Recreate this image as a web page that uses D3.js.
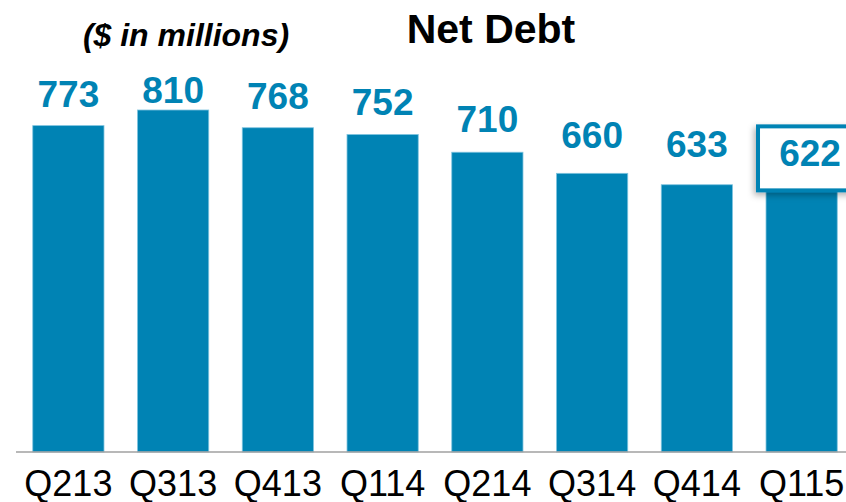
<!DOCTYPE html>
<html>
<head>
<meta charset="utf-8">
<script src="https://cdn.jsdelivr.net/npm/d3@7"></script>
<style>
  body { margin: 0; background: #fff; }
  svg { display: block; font-family: "Liberation Sans", Arial, sans-serif; }
</style>
</head>
<body>
<div id="chart"></div>
<script>
// chart data
var quarters = ["Q213", "Q313", "Q413", "Q114", "Q214", "Q314", "Q414", "Q115"];
var netDebt = [773, 810, 768, 752, 710, 660, 633, 622];
var highlighted = "Q115";

var width = 846, height = 502;
var blue = "#0083b4";

var svg = d3.select("#chart")
    .append("svg")
    .attr("width", width)
    .attr("height", height);

var defs = svg.append("defs");
var shadow = defs.append("filter")
    .attr("id", "shadow")
    .attr("x", "-20%").attr("y", "-20%")
    .attr("width", "140%").attr("height", "150%");
shadow.append("feDropShadow")
    .attr("dx", -2).attr("dy", 3)
    .attr("stdDeviation", 3)
    .attr("flood-color", "#000")
    .attr("flood-opacity", 0.3);

// scales
var x = d3.scaleBand()
    .domain(quarters)
    .range([16, 854])
    .paddingInner(0.32)
    .paddingOuter(0.16);

var y = d3.scaleLinear()
    .domain([0, 810])
    .range([452, 110]);

// value labels sit closer to the tall bars than to the short ones
var yLabel = d3.scaleLinear()
    .domain([633, 710, 773, 810])
    .range([157, 132, 107, 103]);

var data = quarters.map(function (q, i) { return { q: q, v: netDebt[i] }; });

// bars
svg.selectAll(".bar")
    .data(data)
    .enter()
    .append("rect")
    .attr("class", "bar")
    .attr("x", function (d) { return x(d.q); })
    .attr("y", function (d) { return y(d.v); })
    .attr("width", x.bandwidth())
    .attr("height", function (d) { return y(0) - y(d.v); })
    .attr("fill", blue)
    .attr("stroke", "#7fc4df")
    .attr("stroke-width", 0.8);

// baseline
svg.append("line")
    .attr("x1", 16).attr("x2", width)
    .attr("y1", y(0)).attr("y2", y(0))
    .attr("stroke", "#a0a0a0")
    .attr("stroke-width", 1.5);

// x axis labels
var xAxis = svg.append("g")
    .attr("transform", "translate(0," + y(0) + ")")
    .call(d3.axisBottom(x).tickSize(0).tickPadding(0));
xAxis.select(".domain").remove();
xAxis.selectAll("text")
    .attr("y", 44)
    .attr("dy", 0)
    .attr("fill", "#000")
    .style("font-size", "36px")
    .style("font-family", "'Liberation Sans', Arial, sans-serif");

// value labels
svg.selectAll(".val")
    .data(data.filter(function (d) { return d.q !== highlighted; }))
    .enter()
    .append("text")
    .attr("class", "val")
    .attr("x", function (d) { return x(d.q) + x.bandwidth() / 2; })
    .attr("y", function (d) { return yLabel(d.v); })
    .attr("text-anchor", "middle")
    .attr("fill", blue)
    .style("font-size", "37px")
    .style("font-weight", "bold")
    .text(function (d) { return d.v; });

// highlighted last quarter in a callout box
var last = data.filter(function (d) { return d.q === highlighted; })[0];
var boxX = x(last.q) - 8, boxTop = y(last.v) - 63;
svg.append("rect")
    .attr("x", boxX)
    .attr("y", boxTop)
    .attr("width", 106)
    .attr("height", 64)
    .attr("fill", "#fff")
    .attr("stroke", blue)
    .attr("stroke-width", 4)
    .attr("filter", "url(#shadow)");
svg.append("text")
    .attr("x", boxX + 52)
    .attr("y", boxTop + 40)
    .attr("text-anchor", "middle")
    .attr("fill", blue)
    .style("font-size", "37px")
    .style("font-weight", "bold")
    .text(last.v);

// titles
svg.append("text")
    .attr("x", 491)
    .attr("y", 43)
    .attr("text-anchor", "middle")
    .attr("fill", "#000")
    .style("font-size", "41px")
    .style("font-weight", "bold")
    .text("Net Debt");

svg.append("text")
    .attr("x", 186)
    .attr("y", 46)
    .attr("text-anchor", "middle")
    .attr("fill", "#000")
    .style("font-size", "32px")
    .style("font-weight", "bold")
    .style("font-style", "italic")
    .text("($ in millions)");
</script>
</body>
</html>
